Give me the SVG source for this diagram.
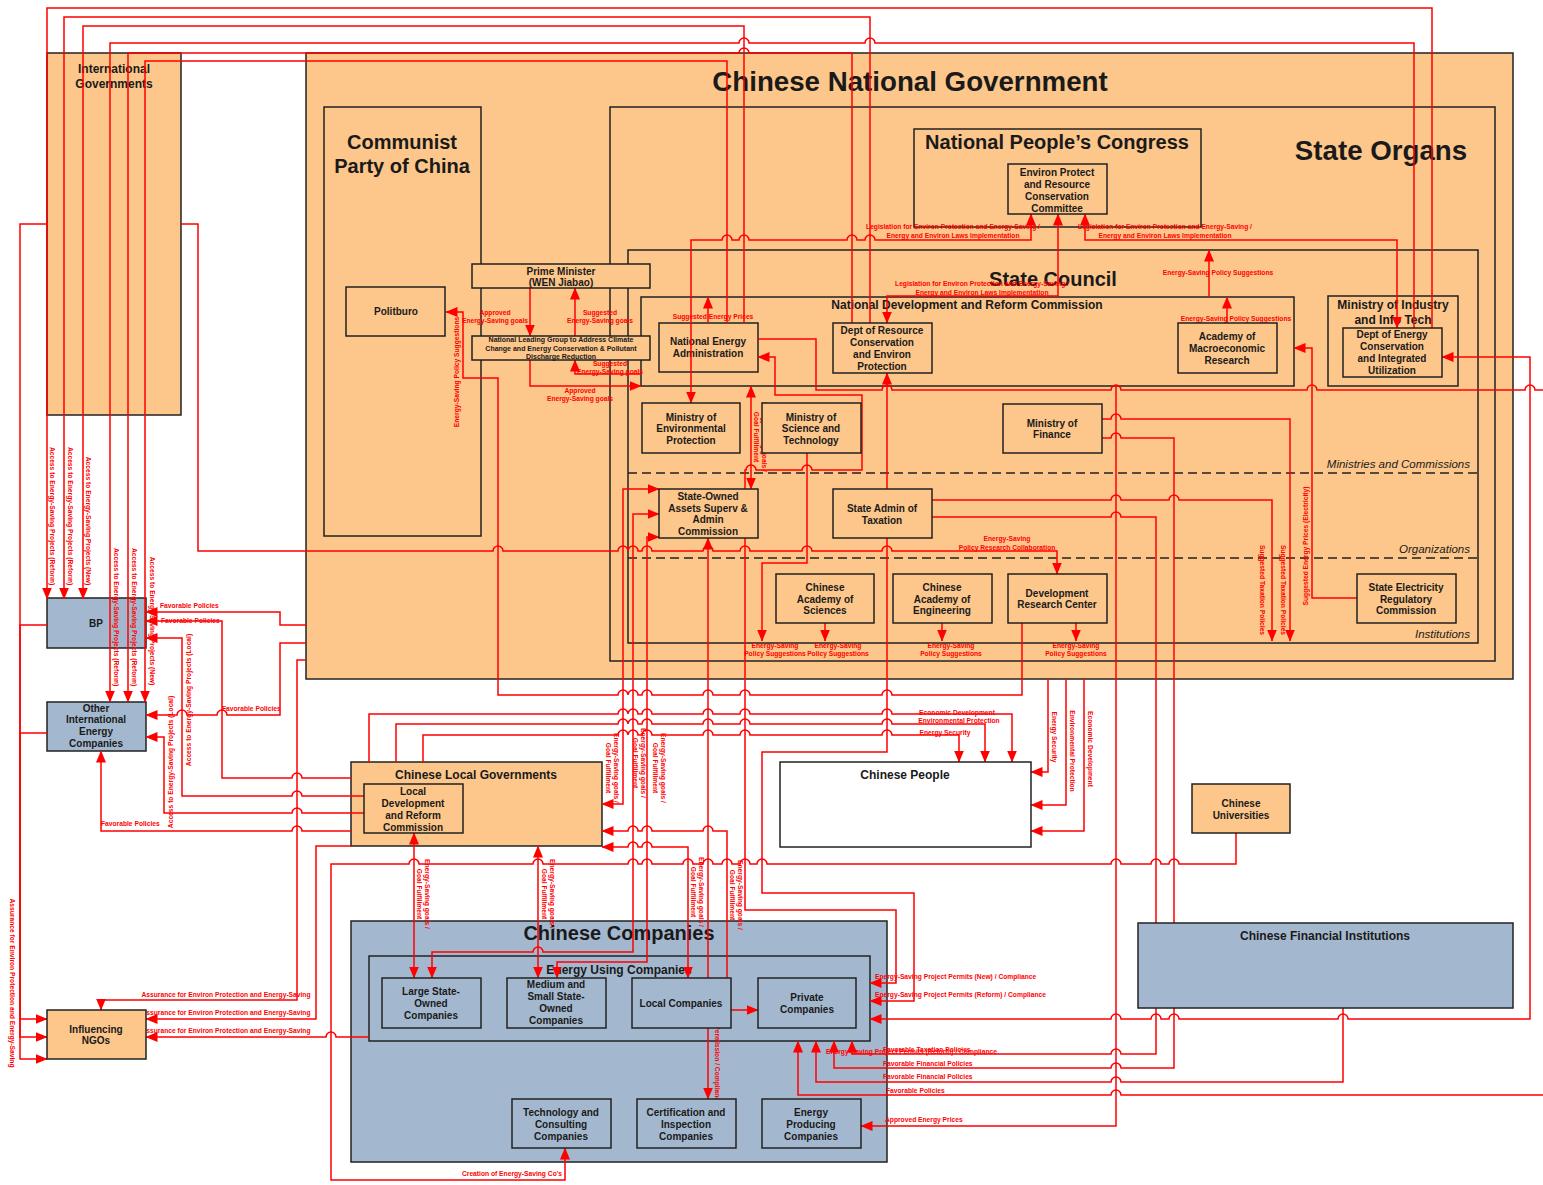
<svg xmlns="http://www.w3.org/2000/svg" width="1543" height="1185" viewBox="0 0 1543 1185">
<style>
.o{fill:#FDC68A;stroke:#222;stroke-width:1.5}
.b{fill:#A3B8CE;stroke:#222;stroke-width:1.5}
.w{fill:#fff;stroke:#222;stroke-width:1.5}
text{font-family:"Liberation Sans",Arial,sans-serif;font-weight:bold;fill:#1a1a1a;text-anchor:middle}
.t10{font-size:10px}
.t12{font-size:12px}
.t20{font-size:20px}
.t27{font-size:27.7px}
.it{font-size:11.5px;font-weight:normal;font-style:italic;text-anchor:end}
.l{font-size:6.7px;fill:#f00}
.ls{text-anchor:start}
.c path{fill:none;stroke:#f00;stroke-width:1.5}
.c .e{marker-end:url(#ah)}
.c .d{marker-start:url(#ah);marker-end:url(#ah)}
.dash{stroke:#222;stroke-width:1.5;stroke-dasharray:9 5}
</style>
<defs>
<marker id="ah" viewBox="0 0 12 10" refX="11.5" refY="5" markerWidth="12" markerHeight="10" orient="auto-start-reverse" markerUnits="userSpaceOnUse"><path d="M0,0L12,5L0,10z" fill="#f00"/></marker>
</defs>
<rect width="1543" height="1185" fill="#fff"/>

<!-- containers -->
<g id="intl-governments"><rect class="o" x="47" y="53" width="134" height="362"/><text class="t12" x="114" y="73">International</text><text class="t12" x="114" y="88">Governments</text></g>
<g id="national-government"><rect class="o" x="306" y="53" width="1207" height="626"/><text class="t27" x="910" y="91">Chinese National Government</text></g>
<g id="communist-party"><rect class="o" x="324" y="107" width="157" height="429"/><text class="t20" x="402" y="149">Communist</text><text class="t20" x="402" y="173">Party of China</text></g>
<g id="state-organs"><rect class="o" x="610" y="107" width="885" height="554"/><text class="t27" x="1381" y="160">State Organs</text></g>
<g id="npc"><rect class="o" x="914" y="129" width="287" height="98"/><text class="t20" x="1057" y="149">National People’s Congress</text></g>
<g id="state-council"><rect class="o" x="628" y="250" width="850" height="393"/><text class="t20" x="1053" y="286">State Council</text>
<line class="dash" x1="628" y1="473" x2="1478" y2="473"/><line class="dash" x1="628" y1="558" x2="1478" y2="558"/>
<text class="it" x="1470" y="468">Ministries and Commissions</text><text class="it" x="1470" y="553">Organizations</text><text class="it" x="1470" y="638">Institutions</text></g>
<g id="ndrc"><rect class="o" x="641" y="297" width="653" height="89"/><text class="t12" x="967" y="309">National Development and Reform Commission</text></g>
<g id="miit"><rect class="o" x="1328" y="296" width="130" height="90"/><text class="t12" x="1393" y="309">Ministry of Industry</text><text class="t12" x="1393" y="324">and Info Tech</text></g>
<g id="local-governments"><rect class="o" x="351" y="762" width="251" height="84"/><text class="t12" x="476" y="779">Chinese Local Governments</text></g>
<g id="chinese-companies"><rect class="b" x="351" y="921" width="536" height="241"/><text class="t20" x="619" y="940">Chinese Companies</text></g>
<g id="energy-using"><rect class="b" x="369" y="956" width="501" height="85"/><text class="t12" x="619" y="974">Energy Using Companies</text></g>
<g id="nea"><rect class="o" x="659" y="323" width="99" height="49"/><text class="t10" x="708" y="345">National Energy</text><text class="t10" x="708" y="357">Administration</text></g>
<g id="bp"><rect class="b" x="47" y="598" width="99" height="50"/><text class="t10" x="96" y="626.5">BP</text></g>
<g id="other-intl"><rect class="b" x="47" y="702" width="99" height="49"/><text class="t10" x="96" y="711.5">Other</text><text class="t10" x="96" y="723">International</text><text class="t10" x="96" y="735">Energy</text><text class="t10" x="96" y="747">Companies</text></g>

<!-- connectors (horizontal runs hop over the vertical runs they cross) -->
<g id="connectors" class="c">
<path class="e" d="M1432,328V8H47V599"/>
<path class="e" d="M870,323V17H64V599"/>
<path class="e" d="M744,323V26H83V599"/>
<path class="e" d="M1414,328V43H875a5,5 0 0 0 -10,0H749a5,5 0 0 0 -10,0H110V702"/>
<path class="e" d="M852,323V53H749a5,5 0 0 0 -10,0H128V702"/>
<path class="e" d="M727,323V61H145V702"/>
<path class="d" d="M1031,214V240H875a5,5 0 0 0 -10,0H857a5,5 0 0 0 -10,0H749a5,5 0 0 0 -10,0H732a5,5 0 0 0 -10,0H691V403"/>
<path class="d" d="M1058,214V296H887V323"/>
<path class="d" d="M1085,214V240H1397V328"/>
<path class="e" d="M1227,323V297"/>
<path class="e" d="M1209,297V250"/>
<path class="e" d="M708,323V297"/>
<path class="e" d="M530,288V336"/>
<path class="e" d="M575,336V288"/>
<path class="e" d="M530,360V386H641"/>
<path class="e" d="M641,374H575V360"/>
<path class="e" d="M1022,623V695H892a5,5 0 0 0 -10,0H750a5,5 0 0 0 -10,0H713a5,5 0 0 0 -10,0H652a5,5 0 0 0 -10,0H638a5,5 0 0 0 -10,0H628a5,5 0 0 0 -10,0H498V378H463V312H446"/>
<path class="e" d="M181,224H198V551H493a5,5 0 0 1 10,0H618a5,5 0 0 1 10,0H628a5,5 0 0 1 10,0H642a5,5 0 0 1 10,0H703a5,5 0 0 1 10,0H740a5,5 0 0 1 10,0H802a5,5 0 0 1 10,0H882a5,5 0 0 1 10,0H1057V574"/>
<path class="e" d="M47,224H20V1059H47"/>
<path class="e" d="M47,625H20V1037H47"/>
<path class="e" d="M47,733H20V1019H47"/>
<path class="e" d="M306,660H297V1000H101V1010"/>
<path class="e" d="M351,846H316V1019H146"/>
<path class="e" d="M369,1037H336a5,5 0 0 0 -10,0H146"/>
<path class="e" d="M1236,833V864H1179a5,5 0 0 0 -10,0H1161a5,5 0 0 0 -10,0H1121a5,5 0 0 0 -10,0H767a5,5 0 0 0 -10,0H750a5,5 0 0 0 -10,0H732a5,5 0 0 0 -10,0H713a5,5 0 0 0 -10,0H693a5,5 0 0 0 -10,0H652a5,5 0 0 0 -10,0H638a5,5 0 0 0 -10,0H543a5,5 0 0 0 -10,0H419a5,5 0 0 0 -10,0H331V1180H565V1148"/>
<path class="e" d="M306,625H280V612H146"/>
<path class="e" d="M306,643H280V715H227a5,5 0 0 0 -10,0H187a5,5 0 0 0 -10,0H146"/>
<path class="e" d="M351,778H302a5,5 0 0 0 -10,0H222V621H146"/>
<path class="e" d="M364,796H302a5,5 0 0 0 -10,0H182V638H146"/>
<path class="e" d="M364,813H302a5,5 0 0 0 -10,0H164V737H146"/>
<path class="e" d="M351,831H302a5,5 0 0 0 -10,0H101V751"/>
<path class="e" d="M369,762V714H618a5,5 0 0 1 10,0H628a5,5 0 0 1 10,0H642a5,5 0 0 1 10,0H703a5,5 0 0 1 10,0H740a5,5 0 0 1 10,0H882a5,5 0 0 1 10,0H1012V762"/>
<path class="e" d="M396,762V724H618a5,5 0 0 1 10,0H628a5,5 0 0 1 10,0H642a5,5 0 0 1 10,0H703a5,5 0 0 1 10,0H740a5,5 0 0 1 10,0H882a5,5 0 0 1 10,0H985V762"/>
<path class="e" d="M423,762V735H618a5,5 0 0 1 10,0H628a5,5 0 0 1 10,0H642a5,5 0 0 1 10,0H703a5,5 0 0 1 10,0H740a5,5 0 0 1 10,0H882a5,5 0 0 1 10,0H959V762"/>
<path class="e" d="M1048,679V772H1031"/>
<path class="e" d="M1066,679V805H1031"/>
<path class="e" d="M1084,679V831H1031"/>
<path class="e" d="M807,453V563H762V641"/>
<path class="e" d="M825,623V641"/>
<path class="e" d="M942,623V641"/>
<path class="e" d="M1076,623V641"/>
<path class="e" d="M932,500H1111a5,5 0 0 1 10,0H1169a5,5 0 0 1 10,0H1272V641"/>
<path class="e" d="M1102,419H1111a5,5 0 0 1 10,0H1290V641"/>
<path class="e" d="M932,517H1111a5,5 0 0 1 10,0H1156V1054H1121a5,5 0 0 0 -10,0H852V1041"/>
<path class="e" d="M1102,438H1111a5,5 0 0 1 10,0H1174V1068H1121a5,5 0 0 0 -10,0H834V1041"/>
<path class="e" d="M1343,1008V1082H1121a5,5 0 0 0 -10,0H816V1041"/>
<path class="e" d="M1543,1095H1121a5,5 0 0 0 -10,0H798V1041"/>
<path class="e" d="M1116,386V1126H861"/>
<path class="e" d="M1357,598H1312V348H1294"/>
<path d="M758,339H816V390H882a5,5 0 0 1 10,0H1111a5,5 0 0 1 10,0H1307a5,5 0 0 1 10,0H1525a5,5 0 0 1 10,0H1543"/>
<path class="d" d="M1442,357H1530V1019H1348a5,5 0 0 0 -10,0H1179a5,5 0 0 0 -10,0H1161a5,5 0 0 0 -10,0H1121a5,5 0 0 0 -10,0H870"/>
<path class="d" d="M751,386V489"/>
<path class="d" d="M758,357H775V395H862V470H812a5,5 0 0 0 -10,0H756a5,5 0 0 0 -10,0H745V910H896V983H870"/>
<path class="d" d="M887,373V752H762V893H914V1001H870"/>
<path class="d" d="M414,833V978"/>
<path class="d" d="M538,846V978"/>
<path class="d" d="M602,847H628a5,5 0 0 1 10,0H642a5,5 0 0 1 10,0H688V978"/>
<path class="d" d="M602,831H628a5,5 0 0 1 10,0H642a5,5 0 0 1 10,0H703a5,5 0 0 1 10,0H727V1010H758"/>
<path class="d" d="M659,489H623V804H602"/>
<path class="d" d="M659,514H633V952H543a5,5 0 0 0 -10,0H432V978"/>
<path class="d" d="M659,537H647V962H557V978"/>
<path class="d" d="M708,538V1099"/>
</g>

<!-- connector labels -->
<g id="connector-labels">
<text class="l" transform="translate(50,516) rotate(90)">Access to Energy-Saving Projects (Reform)</text>
<text class="l" transform="translate(68,516) rotate(90)">Access to Energy-Saving Projects (Reform)</text>
<text class="l" transform="translate(86,521) rotate(90)">Access to Energy-Saving Projects (New)</text>
<text class="l" transform="translate(114,617) rotate(90)">Access to Energy-Saving Projects (Reform)</text>
<text class="l" transform="translate(132,617) rotate(90)">Access to Energy-Saving Projects (Reform)</text>
<text class="l" transform="translate(150,621) rotate(90)">Access to Energy-Saving Projects (New)</text>
<text class="l" transform="translate(191,700) rotate(-90)">Access to Energy-Saving Projects (Local)</text>
<text class="l" transform="translate(173,762) rotate(-90)">Access to Energy-Saving Projects (Local)</text>
<text class="l" transform="translate(10,983) rotate(90)">Assurance for Environ Protection and Energy-Saving</text>
<text class="l" transform="translate(459,372) rotate(-90)">Energy-Saving Policy Suggestions</text>
<text class="l ls" x="160" y="608">Favorable Policies</text>
<text class="l ls" x="161" y="623">Favorable Policies</text>
<text class="l ls" x="222" y="711">Favorable Policies</text>
<text class="l ls" x="101" y="826">Favorable Policies</text>
<text class="l" x="495" y="315">Approved</text><text class="l" x="495" y="323">Energy-Saving goals</text>
<text class="l" x="600" y="315">Suggested</text><text class="l" x="600" y="323">Energy-Saving goals</text>
<text class="l" x="610" y="366">Suggested</text><text class="l" x="610" y="374">Energy-Saving goals</text>
<text class="l" x="580" y="393">Approved</text><text class="l" x="580" y="401">Energy-Saving goals</text>
<text class="l" x="713" y="319">Suggested Energy Prices</text>
<text class="l" x="953" y="229">Legislation for Environ Protection and Energy-Saving /</text><text class="l" x="953" y="238">Energy and Environ Laws Implementation</text>
<text class="l" x="1165" y="229">Legislation for Environ Protection and Energy-Saving /</text><text class="l" x="1165" y="238">Energy and Environ Laws Implementation</text>
<text class="l" x="982" y="286">Legislation for Environ Protection and Energy-Saving /</text><text class="l" x="982" y="295">Energy and Environ Laws Implementation</text>
<text class="l" x="1218" y="275">Energy-Saving Policy Suggestions</text>
<text class="l" x="1236" y="321">Energy-Saving Policy Suggestions</text>
<text class="l" x="1007" y="541">Energy-Saving</text><text class="l" x="1007" y="550">Policy Research Collaboration</text>
<text class="l" x="775" y="648">Energy-Saving</text><text class="l" x="775" y="656">Policy Suggestions</text>
<text class="l" x="838" y="648">Energy-Saving</text><text class="l" x="838" y="656">Policy Suggestions</text>
<text class="l" x="951" y="648">Energy-Saving</text><text class="l" x="951" y="656">Policy Suggestions</text>
<text class="l" x="1076" y="648">Energy-Saving</text><text class="l" x="1076" y="656">Policy Suggestions</text>
<text class="l" transform="translate(1260,590) rotate(90)">Suggested Taxation Policies</text>
<text class="l" transform="translate(1281,590) rotate(90)">Suggested Taxation Policies</text>
<text class="l" transform="translate(1308,546) rotate(-90)">Suggested Energy Prices (Electricity)</text>
<text class="l" transform="translate(762,437) rotate(90)"><tspan x="0" y="0">Energy-Saving goals /</tspan><tspan x="0" y="8">Goal Fulfillment</tspan></text>
<text class="l" x="957" y="715">Economic Development</text>
<text class="l" x="959" y="723">Environmental Protection</text>
<text class="l" x="945" y="735">Energy Security</text>
<text class="l" transform="translate(1052,737) rotate(90)">Energy Security</text>
<text class="l" transform="translate(1070,751) rotate(90)">Environmental Protection</text>
<text class="l" transform="translate(1088,749) rotate(90)">Economic Development</text>
<text class="l" transform="translate(614,768) rotate(90)"><tspan x="0" y="0">Energy-Saving goals /</tspan><tspan x="0" y="8">Goal Fulfillment</tspan></text>
<text class="l" transform="translate(641,763) rotate(90)"><tspan x="0" y="0">Energy-Saving goals /</tspan><tspan x="0" y="8">Goal Fulfillment</tspan></text>
<text class="l" transform="translate(661,768) rotate(90)"><tspan x="0" y="0">Energy-Saving goals /</tspan><tspan x="0" y="8">Goal Fulfillment</tspan></text>
<text class="l" transform="translate(425,894) rotate(90)"><tspan x="0" y="0">Energy-Saving goals /</tspan><tspan x="0" y="8">Goal Fulfillment</tspan></text>
<text class="l" transform="translate(550,894) rotate(90)"><tspan x="0" y="0">Energy-Saving goals /</tspan><tspan x="0" y="8">Goal Fulfillment</tspan></text>
<text class="l" transform="translate(699,892) rotate(90)"><tspan x="0" y="0">Energy-Saving goals /</tspan><tspan x="0" y="8">Goal Fulfillment</tspan></text>
<text class="l" transform="translate(738,895) rotate(90)"><tspan x="0" y="0">Energy-Saving goals /</tspan><tspan x="0" y="8">Goal Fulfillment</tspan></text>
<text class="l" transform="translate(715,1065) rotate(90)">Permission / Compliance</text>
<text class="l" x="226" y="997">Assurance for Environ Protection and Energy-Saving</text>
<text class="l" x="226" y="1015">Assurance for Environ Protection and Energy-Saving</text>
<text class="l" x="226" y="1033">Assurance for Environ Protection and Energy-Saving</text>
<text class="l" x="512" y="1176">Creation of Energy-Saving Co's</text>
<text class="l ls" x="875" y="979">Energy-Saving Project Permits (New) / Compliance</text>
<text class="l ls" x="875" y="997">Energy-Saving Project Permits (Reform) / Compliance</text>
<text class="l ls" x="826" y="1054">Energy-Saving Project Permits (Reform) / Compliance</text>
<text class="l ls" x="883" y="1052">Favorable Taxation Policies</text>
<text class="l ls" x="883" y="1066">Favorable Financial Policies</text>
<text class="l ls" x="883" y="1079">Favorable Financial Policies</text>
<text class="l ls" x="886" y="1093">Favorable Policies</text>
<text class="l ls" x="885" y="1122">Approved Energy Prices</text>
</g>

<!-- leaf nodes -->
<g id="politburo"><rect class="o" x="346" y="287" width="99" height="49"/><text class="t10" x="396" y="315">Politburo</text></g>
<g id="prime-minister"><rect class="o" x="472" y="264" width="178" height="24"/><text class="t10" x="561" y="274.5">Prime Minister</text><text class="t10" x="561" y="285.5">(WEN Jiabao)</text></g>
<g id="leading-group"><rect class="o" x="472" y="336" width="178" height="24"/><text style="font-size:7px" x="561" y="342">National Leading Group to Address Climate</text><text style="font-size:7px" x="561" y="351">Change and Energy Conservation &amp; Pollutant</text><text style="font-size:7px" x="561" y="359">Discharge Reduction</text></g>
<g id="env-committee"><rect class="o" x="1008" y="164" width="99" height="50"/><text class="t10" x="1057" y="175.5">Environ Protect</text><text class="t10" x="1057" y="187.5">and Resource</text><text class="t10" x="1057" y="199.5">Conservation</text><text class="t10" x="1057" y="211.5">Committee</text></g>
<g id="dept-resource"><rect class="o" x="833" y="323" width="99" height="50"/><text class="t10" x="882" y="333.5">Dept of Resource</text><text class="t10" x="882" y="345.5">Conservation</text><text class="t10" x="882" y="357.5">and Environ</text><text class="t10" x="882" y="369.5">Protection</text></g>
<g id="macro-research"><rect class="o" x="1178" y="323" width="99" height="50"/><text class="t10" x="1227" y="339.5">Academy of</text><text class="t10" x="1227" y="351.5">Macroeconomic</text><text class="t10" x="1227" y="363.5">Research</text></g>
<g id="dept-energy"><rect class="o" x="1343" y="328" width="99" height="49"/><text class="t10" x="1392" y="338">Dept of Energy</text><text class="t10" x="1392" y="350">Conservation</text><text class="t10" x="1392" y="362">and Integrated</text><text class="t10" x="1392" y="374">Utilization</text></g>
<g id="mep"><rect class="o" x="642" y="403" width="98" height="50"/><text class="t10" x="691" y="420.5">Ministry of</text><text class="t10" x="691" y="432">Environmental</text><text class="t10" x="691" y="443.5">Protection</text></g>
<g id="most"><rect class="o" x="762" y="403" width="99" height="50"/><text class="t10" x="811" y="420.5">Ministry of</text><text class="t10" x="811" y="432">Science and</text><text class="t10" x="811" y="443.5">Technology</text></g>
<g id="finance"><rect class="o" x="1003" y="404" width="99" height="49"/><text class="t10" x="1052" y="426.5">Ministry of</text><text class="t10" x="1052" y="438">Finance</text></g>
<g id="sasac"><rect class="o" x="659" y="489" width="99" height="49"/><text class="t10" x="708" y="499.5">State-Owned</text><text class="t10" x="708" y="511.5">Assets Superv &amp;</text><text class="t10" x="708" y="523">Admin</text><text class="t10" x="708" y="535">Commission</text></g>
<g id="taxation"><rect class="o" x="833" y="489" width="99" height="49"/><text class="t10" x="882" y="511.5">State Admin of</text><text class="t10" x="882" y="523.5">Taxation</text></g>
<g id="cas"><rect class="o" x="776" y="574" width="98" height="49"/><text class="t10" x="825" y="590.5">Chinese</text><text class="t10" x="825" y="602.5">Academy of</text><text class="t10" x="825" y="614">Sciences</text></g>
<g id="cae"><rect class="o" x="893" y="574" width="99" height="49"/><text class="t10" x="942" y="590.5">Chinese</text><text class="t10" x="942" y="602.5">Academy of</text><text class="t10" x="942" y="614">Engineering</text></g>
<g id="drc"><rect class="o" x="1008" y="574" width="99" height="49"/><text class="t10" x="1057" y="596.5">Development</text><text class="t10" x="1057" y="608">Research Center</text></g>
<g id="serc"><rect class="o" x="1357" y="574" width="99" height="49"/><text class="t10" x="1406" y="590.5">State Electricity</text><text class="t10" x="1406" y="602.5">Regulatory</text><text class="t10" x="1406" y="614">Commission</text></g>
<g id="local-ndrc"><rect class="o" x="364" y="784" width="99" height="49"/><text class="t10" x="413" y="794.5">Local</text><text class="t10" x="413" y="806.5">Development</text><text class="t10" x="413" y="818.5">and Reform</text><text class="t10" x="413" y="830.5">Commission</text></g>
<g id="people"><rect class="w" x="780" y="762" width="251" height="85"/><text class="t12" x="905" y="779">Chinese People</text></g>
<g id="universities"><rect class="o" x="1192" y="784" width="98" height="49"/><text class="t10" x="1241" y="806.5">Chinese</text><text class="t10" x="1241" y="818.5">Universities</text></g>
<g id="financial"><rect class="b" x="1138" y="923" width="375" height="85"/><text class="t12" x="1325" y="940">Chinese Financial Institutions</text></g>
<g id="ngos"><rect class="o" x="47" y="1010" width="99" height="49"/><text class="t10" x="96" y="1032.5">Influencing</text><text class="t10" x="96" y="1044">NGOs</text></g>
<g id="large-soe"><rect class="b" x="382" y="978" width="99" height="50"/><text class="t10" x="431" y="994.5">Large State-</text><text class="t10" x="431" y="1006.5">Owned</text><text class="t10" x="431" y="1018.5">Companies</text></g>
<g id="medium-soe"><rect class="b" x="507" y="978" width="99" height="50"/><text class="t10" x="556" y="987.5">Medium and</text><text class="t10" x="556" y="999.5">Small State-</text><text class="t10" x="556" y="1011.5">Owned</text><text class="t10" x="556" y="1023.5">Companies</text></g>
<g id="local-companies"><rect class="b" x="632" y="978" width="99" height="50"/><text class="t10" x="681" y="1006.5">Local Companies</text></g>
<g id="private"><rect class="b" x="758" y="978" width="98" height="50"/><text class="t10" x="807" y="1000.5">Private</text><text class="t10" x="807" y="1012.5">Companies</text></g>
<g id="tech-consulting"><rect class="b" x="512" y="1099" width="99" height="49"/><text class="t10" x="561" y="1115.5">Technology and</text><text class="t10" x="561" y="1127.5">Consulting</text><text class="t10" x="561" y="1139.5">Companies</text></g>
<g id="certification"><rect class="b" x="637" y="1099" width="99" height="49"/><text class="t10" x="686" y="1115.5">Certification and</text><text class="t10" x="686" y="1127.5">Inspection</text><text class="t10" x="686" y="1139.5">Companies</text></g>
<g id="energy-producing"><rect class="b" x="762" y="1099" width="99" height="49"/><text class="t10" x="811" y="1115.5">Energy</text><text class="t10" x="811" y="1127.5">Producing</text><text class="t10" x="811" y="1139.5">Companies</text></g>
</svg>
